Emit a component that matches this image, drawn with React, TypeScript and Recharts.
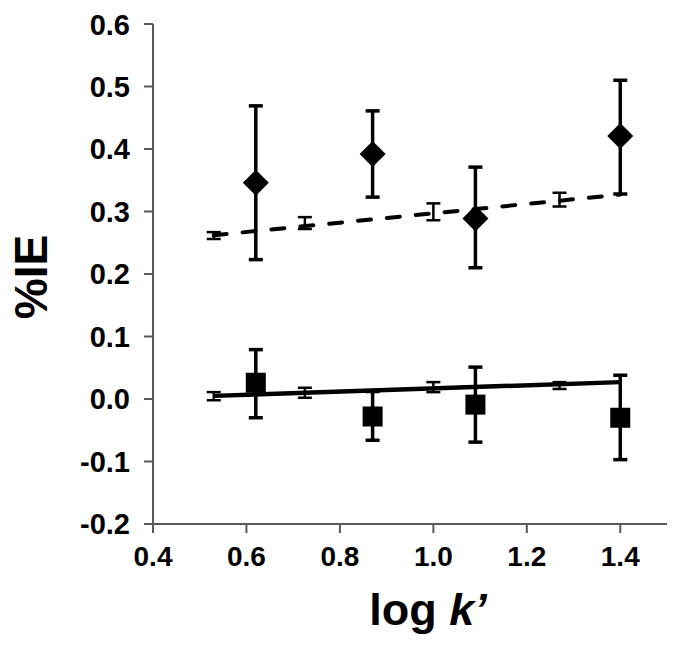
import { ScatterChart, Scatter, XAxis, YAxis, ErrorBar, Label } from "recharts";

// measured points (log k', %IE) with asymmetric error bar ends
const logK = [0.62, 0.87, 1.09, 1.4];
const ieDiamond = [0.346, 0.392, 0.289, 0.421];
const ieDiamondHigh = [0.469, 0.461, 0.371, 0.51];
const ieDiamondLow = [0.223, 0.323, 0.21, 0.328];
const ieSquare = [0.026, -0.028, -0.009, -0.03];
const ieSquareHigh = [0.079, 0.012, 0.051, 0.038];
const ieSquareLow = [-0.03, -0.066, -0.069, -0.097];

// predicted points sitting on the trend lines
const fitLogK = [0.53, 0.725, 1.0, 1.27];
const fitDiamond = [0.261, 0.282, 0.3, 0.319];
const fitDiamondHigh = [0.267, 0.291, 0.313, 0.33];
const fitDiamondLow = [0.256, 0.272, 0.286, 0.308];
const fitSquare = [0.004, 0.01, 0.019, 0.022];
const fitSquareHigh = [0.011, 0.018, 0.027, 0.027];
const fitSquareLow = [-0.002, 0.002, 0.011, 0.016];

// trend line end points
const trendLogK = [0.53, 1.4];
const trendDiamond = [0.262, 0.327];
const trendSquare = [0.005, 0.027];

const xTicks = [0.4, 0.6, 0.8, 1.0, 1.2, 1.4];
const yTicks = [-0.2, -0.1, 0, 0.1, 0.2, 0.3, 0.4, 0.5, 0.6];

const FONT = "'Liberation Sans', Arial, Helvetica, sans-serif";
const AXIS = "#595959";

const withErr = (xs: number[], ys: number[], hi: number[], lo: number[]) =>
  xs.map((x, i) => ({ x, y: ys[i], err: [ys[i] - lo[i], hi[i] - ys[i]] }));

const pairs = (xs: number[], ys: number[]) => xs.map((x, i) => ({ x, y: ys[i] }));

const diamondData = withErr(logK, ieDiamond, ieDiamondHigh, ieDiamondLow);
const squareData = withErr(logK, ieSquare, ieSquareHigh, ieSquareLow);
const fitDiamondData = withErr(fitLogK, fitDiamond, fitDiamondHigh, fitDiamondLow);
const fitSquareData = withErr(fitLogK, fitSquare, fitSquareHigh, fitSquareLow);

const Diamond = (props: any) => {
  const { cx, cy } = props;
  const r = 13;
  return <polygon points={`${cx},${cy - r} ${cx + r},${cy} ${cx},${cy + r} ${cx - r},${cy}`} fill="#000" />;
};

const Square = (props: any) => {
  const { cx, cy } = props;
  return <rect x={cx - 10} y={cy - 10} width={20} height={20} fill="#000" />;
};

const Nothing = () => <g />;

export default function App() {
  return (
    <ScatterChart width={670} height={640} margin={{ top: 16, right: 11, left: 0, bottom: 0 }}>
      <XAxis
        type="number"
        dataKey="x"
        domain={[0.4, 1.5]}
        ticks={xTicks}
        tickFormatter={(v: number) => v.toFixed(1)}
        height={124}
        tickSize={9}
        tickMargin={13}
        axisLine={{ stroke: AXIS, strokeWidth: 2 }}
        tickLine={{ stroke: AXIS, strokeWidth: 2 }}
        tick={{ fontSize: 28, fontWeight: "bold", fill: "#000", fontFamily: FONT }}
      >
        <Label
          content={({ viewBox }: any) => (
            <text
              x={viewBox.x + viewBox.width / 2 + 18}
              y={617}
              textAnchor="middle"
              fontSize={45}
              fontWeight="bold"
              fontFamily={FONT}
              fill="#000"
            >
              log <tspan fontStyle="italic">k’</tspan>
            </text>
          )}
        />
      </XAxis>
      <YAxis
        type="number"
        dataKey="y"
        domain={[-0.2, 0.6]}
        ticks={yTicks}
        tickFormatter={(v: number) => v.toFixed(1)}
        width={145}
        tickSize={9}
        tickMargin={14}
        axisLine={{ stroke: AXIS, strokeWidth: 2 }}
        tickLine={{ stroke: AXIS, strokeWidth: 2 }}
        tick={{ fontSize: 29, fontWeight: "bold", fill: "#000", fontFamily: FONT }}
      >
        <Label
          content={({ viewBox }: any) => {
            const cx = 23;
            const cy = viewBox.y + viewBox.height / 2 + 3;
            return (
              <g transform={`translate(${cx}, ${cy}) rotate(-90)`}>
                <text
                  x={0}
                  y={0}
                  textAnchor="middle"
                  dominantBaseline="central"
                  fontSize={46}
                  fontWeight="bold"
                  fontFamily={FONT}
                  fill="#000"
                >
                  %IE
                </text>
              </g>
            );
          }}
        />
      </YAxis>

      <Scatter
        data={pairs(trendLogK, trendDiamond)}
        shape={Nothing}
        line={{ stroke: "#000", strokeWidth: 4, strokeDasharray: "13 16", strokeLinecap: "round" }}
        isAnimationActive={false}
      />
      <Scatter
        data={pairs(trendLogK, trendSquare)}
        shape={Nothing}
        line={{ stroke: "#000", strokeWidth: 4.5 }}
        isAnimationActive={false}
      />

      <Scatter data={fitDiamondData} shape={Nothing} isAnimationActive={false}>
        <ErrorBar dataKey="err" direction="y" width={7} stroke="#000" strokeWidth={2.5} isAnimationActive={false} />
      </Scatter>
      <Scatter data={fitSquareData} shape={Nothing} isAnimationActive={false}>
        <ErrorBar dataKey="err" direction="y" width={7} stroke="#000" strokeWidth={2.5} isAnimationActive={false} />
      </Scatter>

      <Scatter data={diamondData} shape={Diamond} isAnimationActive={false}>
        <ErrorBar dataKey="err" direction="y" width={7} stroke="#000" strokeWidth={3.5} isAnimationActive={false} />
      </Scatter>
      <Scatter data={squareData} shape={Square} isAnimationActive={false}>
        <ErrorBar dataKey="err" direction="y" width={7} stroke="#000" strokeWidth={3.5} isAnimationActive={false} />
      </Scatter>
    </ScatterChart>
  );
}
